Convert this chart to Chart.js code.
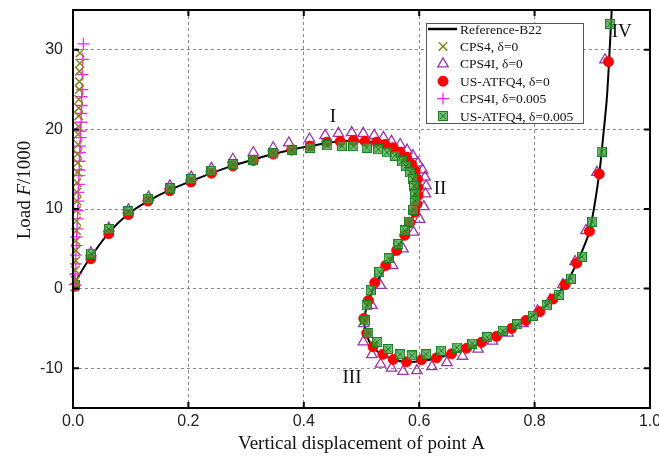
<!DOCTYPE html>
<html>
<head>
<meta charset="utf-8">
<script src="https://cdn.jsdelivr.net/npm/chart.js@4.4.0/dist/chart.umd.min.js"></script>
<style>
  html, body { margin: 0; padding: 0; background: #fff; }
  #wrap { width: 659px; height: 462px; }
</style>
</head>
<body>
<div id="wrap"><canvas id="chart" width="659" height="462"></canvas></div>
<script>
// ---- data ----
var refX = [0, 0.01, 0.031, 0.062, 0.096, 0.130, 0.168, 0.205, 0.240, 0.277, 0.3125, 0.347, 0.379, 0.411, 0.44, 0.463, 0.486, 0.506, 0.526, 0.541, 0.555, 0.567, 0.578, 0.587, 0.593, 0.597, 0.599, 0.598, 0.596, 0.592, 0.585, 0.575, 0.561, 0.543, 0.525, 0.512, 0.505, 0.508, 0.519, 0.536, 0.555, 0.578, 0.604, 0.630, 0.656, 0.682, 0.708, 0.734, 0.760, 0.785, 0.809, 0.832, 0.853, 0.873, 0.895, 0.912, 0.918, 0.925, 0.929, 0.934];
var refY = [0, 1.6, 4.0, 7.0, 9.4, 11.0, 12.4, 13.5, 14.5, 15.45, 16.2, 16.9, 17.45, 17.9, 18.3, 18.5, 18.55, 18.45, 18.3, 18.0, 17.6, 17.05, 16.4, 15.6, 14.7, 13.7, 12.7, 11.7, 10.6, 9.6, 8.3, 6.7, 4.8, 2.8, 0.6, -1.6, -3.8, -5.6, -7.3, -8.3, -8.9, -9.2, -9.1, -8.75, -8.2, -7.55, -6.8, -6.0, -5.05, -4.0, -2.8, -1.3, 0.5, 3.2, 7.2, 14.4, 18.5, 23.7, 28.5, 35.5];

var cps4X = [0.012, 0.012, 0.011, 0.011, 0.011, 0.010, 0.010, 0.010, 0.009, 0.009, 0.009, 0.008, 0.008, 0.008, 0.007, 0.007, 0.007, 0.006, 0.006, 0.006, 0.005, 0.005, 0.005, 0.004, 0.004, 0.003];
var cps4Y = [29.6, 28.3, 27.3, 26.0, 25.0, 23.75, 22.7, 21.7, 20.4, 19.4, 18.1, 16.9, 15.8, 14.6, 13.3, 12.1, 11.0, 9.8, 8.5, 7.3, 6.0, 4.8, 3.5, 2.3, 1.0, 0.2];

var cps4iX = [0.003, 0.031, 0.062, 0.096, 0.131, 0.168, 0.205, 0.240, 0.277, 0.3125, 0.347, 0.374, 0.41, 0.437, 0.46, 0.483, 0.503, 0.522, 0.538, 0.552, 0.567, 0.579, 0.589, 0.598, 0.606, 0.610, 0.612, 0.611, 0.608, 0.601, 0.590, 0.572, 0.554, 0.533, 0.518, 0.504, 0.503, 0.518, 0.533, 0.552, 0.572, 0.596, 0.622, 0.648, 0.675, 0.702, 0.727, 0.754, 0.780, 0.805, 0.827, 0.849, 0.870, 0.889, 0.908, 0.922];
var cps4iY = [0.8, 4.5, 7.6, 9.9, 11.5, 12.9, 14.0, 15.1, 16.25, 17.1, 17.7, 18.3, 18.8, 19.25, 19.5, 19.6, 19.5, 19.25, 19.0, 18.5, 18.1, 17.4, 16.7, 15.8, 14.9, 14.0, 12.9, 11.9, 10.3, 8.7, 7.1, 5.0, 2.9, 0.4, -2.1, -4.4, -6.7, -8.3, -9.5, -10.0, -10.4, -10.3, -9.8, -9.3, -8.5, -7.6, -6.6, -5.6, -4.4, -2.8, -1.4, 0.5, 3.4, 7.3, 14.6, 28.75];

var usX = [0.003, 0.031, 0.062, 0.096, 0.130, 0.168, 0.2045, 0.240, 0.277, 0.3125, 0.347, 0.379, 0.411, 0.44, 0.463, 0.486, 0.506, 0.526, 0.541, 0.555, 0.567, 0.578, 0.587, 0.593, 0.597, 0.598, 0.598, 0.596, 0.592, 0.584, 0.575, 0.561, 0.542, 0.523, 0.512, 0.504, 0.509, 0.520, 0.537, 0.555, 0.578, 0.604, 0.630, 0.656, 0.682, 0.708, 0.734, 0.760, 0.785, 0.809, 0.832, 0.853, 0.873, 0.895, 0.912, 0.928];
var usY = [0.3, 3.75, 6.9, 9.3, 11.0, 12.3, 13.4, 14.5, 15.4, 16.1, 16.9, 17.4, 17.9, 18.4, 18.5, 18.6, 18.5, 18.4, 18.1, 17.7, 17.1, 16.5, 15.6, 14.8, 13.75, 12.7, 11.7, 10.6, 9.6, 8.3, 6.7, 4.8, 2.9, 0.75, -1.5, -3.75, -5.6, -7.3, -8.25, -8.9, -9.2, -8.95, -8.7, -8.2, -7.5, -6.75, -6.0, -5.0, -4.0, -2.9, -1.3, 0.5, 3.2, 7.2, 14.4, 28.5];

var cps4i005X = [0.018, 0.017, 0.016, 0.016, 0.015, 0.015, 0.014, 0.014, 0.013, 0.013, 0.012, 0.012, 0.011, 0.011, 0.010, 0.010, 0.009, 0.009, 0.008, 0.008, 0.007, 0.006, 0.006, 0.005, 0.005, 0.004, 0.003];
var cps4i005Y = [30.75, 28.8, 26.9, 25.0, 24.1, 23.0, 22.0, 20.9, 19.8, 18.96, 17.9, 17.1, 16.0, 14.9, 14.2, 13.1, 12.1, 11.0, 9.8, 8.75, 7.5, 6.5, 5.4, 4.2, 3.1, 1.8, 0.5];

var us005X = [0.003, 0.031, 0.062, 0.096, 0.130, 0.168, 0.205, 0.240, 0.277, 0.3125, 0.347, 0.379, 0.411, 0.441, 0.466, 0.486, 0.509, 0.529, 0.544, 0.558, 0.570, 0.577, 0.584, 0.589, 0.591, 0.593, 0.593, 0.590, 0.583, 0.575, 0.564, 0.547, 0.531, 0.516, 0.509, 0.506, 0.512, 0.527, 0.546, 0.567, 0.587, 0.612, 0.638, 0.665, 0.692, 0.718, 0.745, 0.770, 0.797, 0.821, 0.842, 0.863, 0.882, 0.900, 0.916, 0.931];
var us005Y = [0.5, 4.4, 7.5, 9.7, 11.25, 12.6, 13.75, 14.8, 15.6, 16.2, 17.0, 17.4, 17.7, 18.0, 17.9, 17.9, 17.7, 17.5, 17.1, 16.7, 16.0, 15.4, 14.6, 13.75, 12.9, 11.9, 11.0, 9.9, 8.4, 7.3, 5.6, 3.8, 2.1, -0.2, -2.1, -4.0, -5.6, -6.7, -7.6, -8.25, -8.4, -8.25, -7.8, -7.4, -6.9, -6.1, -5.3, -4.5, -3.4, -2.1, -0.8, 1.25, 4.0, 8.4, 17.2, 33.25];

var xTicks = [0, 0.2, 0.4, 0.6, 0.8, 1.0];
var yTicks = [-10, 0, 10, 20, 30];
var marks = [
  { text: 'I', x: 0.4506, y: 21.5 },
  { text: 'II', x: 0.636, y: 12.5 },
  { text: 'III', x: 0.4835, y: -11.25 },
  { text: 'IV', x: 0.951, y: 32.25 }
];

function pts(xs, ys) {
  return xs.map(function (x, i) { return { x: x, y: ys[i] }; });
}

// green crossed-square marker, drawn pixel by pixel so it stays crisp
function boxCross(size, color, light) {
  var c = document.createElement('canvas');
  c.width = size; c.height = size;
  var g = c.getContext('2d');
  g.fillStyle = light;
  g.fillRect(1, 1, size - 2, size - 2);
  g.fillStyle = color;
  g.fillRect(0, 0, size, 1);
  g.fillRect(0, size - 1, size, 1);
  g.fillRect(0, 0, 1, size);
  g.fillRect(size - 1, 0, 1, size);
  for (var i = 2; i < size - 2; i++) {
    g.fillRect(i, i, 1, 1);
    g.fillRect(size - 1 - i, i, 1, 1);
  }
  return c;
}
var greenBox = boxCross(10, '#17801f', 'rgba(70,165,70,0.75)');

var serif = '"Liberation Serif", "Times New Roman", serif';
var sans = '"Liberation Sans", Arial, sans-serif';

// box, inner ticks, axis title, labels and legend
var framePlugin = {
  id: 'frame',
  afterDraw: function (chart) {
    var ctx = chart.ctx, a = chart.chartArea;
    var xs = chart.scales.x, ys = chart.scales.y;
    ctx.save();
    ctx.strokeStyle = '#000';
    ctx.lineWidth = 2;
    ctx.strokeRect(a.left, a.top, a.right - a.left, a.bottom - a.top);
    ctx.beginPath();
    xTicks.forEach(function (v) {
      var px = xs.getPixelForValue(v);
      ctx.moveTo(px, a.bottom); ctx.lineTo(px, a.bottom - 6);
      ctx.moveTo(px, a.top); ctx.lineTo(px, a.top + 6);
    });
    yTicks.forEach(function (v) {
      var py = ys.getPixelForValue(v);
      ctx.moveTo(a.left, py); ctx.lineTo(a.left + 6, py);
      ctx.moveTo(a.right, py); ctx.lineTo(a.right - 6, py);
    });
    ctx.stroke();

    // y axis title with italic F
    ctx.fillStyle = '#111';
    ctx.textBaseline = 'middle';
    ctx.translate(25, 190);
    ctx.rotate(-Math.PI / 2);
    var parts = [['Load ', 'normal'], ['F', 'italic'], ['/1000', 'normal']];
    var w = 0;
    parts.forEach(function (p) { ctx.font = p[1] + ' 19px ' + serif; w += ctx.measureText(p[0]).width; });
    var cx = -w / 2;
    parts.forEach(function (p) {
      ctx.font = p[1] + ' 19px ' + serif;
      ctx.fillText(p[0], cx, 0);
      cx += ctx.measureText(p[0]).width;
    });
    ctx.restore();

    // branch labels
    ctx.save();
    ctx.fillStyle = '#111';
    ctx.font = '19px ' + serif;
    ctx.textAlign = 'center';
    ctx.textBaseline = 'middle';
    marks.forEach(function (m) {
      ctx.fillText(m.text, xs.getPixelForValue(m.x), ys.getPixelForValue(m.y));
    });
    ctx.restore();

    // legend
    ctx.save();
    var lx = 426, ly = 23, lw = 157, lh = 100;
    ctx.fillStyle = '#fff';
    ctx.fillRect(lx, ly, lw, lh);
    ctx.strokeStyle = '#555';
    ctx.lineWidth = 1;
    ctx.strokeRect(lx + 0.5, ly + 0.5, lw, lh);
    ctx.font = '13.5px ' + serif;
    ctx.textBaseline = 'middle';
    chart.data.datasets.forEach(function (ds, i) {
      var y = 29 + i * 17.4;
      if (ds.showLine) {
        ctx.strokeStyle = ds.borderColor;
        ctx.lineWidth = 2.5;
        ctx.beginPath();
        ctx.moveTo(428, y); ctx.lineTo(457, y);
        ctx.stroke();
      } else {
        ctx.strokeStyle = ds.pointBorderColor;
        ctx.fillStyle = ds.pointBackgroundColor;
        ctx.lineWidth = ds.pointBorderWidth;
        Chart.helpers.drawPoint(ctx, {
          pointStyle: ds.pointStyle, radius: ds.pointRadius,
          borderWidth: ds.pointBorderWidth, rotation: 0
        }, 443, y);
      }
      ctx.fillStyle = '#111';
      ctx.fillText(ds.label, 460, y + 1);
    });
    ctx.restore();
  }
};

var ctx = document.getElementById('chart').getContext('2d');
var chart = new Chart(ctx, {
  type: 'scatter',
  data: {
    datasets: [
      {
        label: 'Reference-B22', data: pts(refX, refY), showLine: true,
        borderColor: '#000', borderWidth: 2, pointRadius: 0, tension: 0.3, order: 6
      },
      {
        label: 'CPS4, \u03b4=0', data: pts(cps4X, cps4Y), pointStyle: 'crossRot',
        pointRadius: 6, pointBorderWidth: 1.5, pointBorderColor: '#85851e',
        pointBackgroundColor: '#85851e', clip: false, order: 1
      },
      {
        label: 'CPS4I, \u03b4=0', data: pts(cps4iX, cps4iY), pointStyle: 'triangle',
        pointRadius: 6, pointBorderWidth: 1.3, pointBorderColor: '#9b35ad',
        pointBackgroundColor: 'rgba(255,255,255,0)', order: 5
      },
      {
        label: 'US-ATFQ4, \u03b4=0', data: pts(usX, usY), pointStyle: 'circle',
        pointRadius: 5, pointBorderWidth: 1, pointBorderColor: '#ff0000',
        pointBackgroundColor: '#ff0000', order: 4
      },
      {
        label: 'CPS4I, \u03b4=0.005', data: pts(cps4i005X, cps4i005Y), pointStyle: 'cross',
        pointRadius: 6, pointBorderWidth: 1.3, pointBorderColor: '#ff22ff',
        pointBackgroundColor: '#ff22ff', clip: false, order: 2
      },
      {
        label: 'US-ATFQ4, \u03b4=0.005', data: pts(us005X, us005Y), pointStyle: greenBox,
        pointRadius: 5, pointBorderWidth: 1, pointBorderColor: '#17801f',
        pointBackgroundColor: '#17801f', order: 3
      }
    ]
  },
  options: {
    responsive: false,
    animation: false,
    layout: { padding: { left: 0, right: 9, top: 10, bottom: 0 } },
    plugins: { legend: { display: false }, tooltip: { enabled: false } },
    scales: {
      x: {
        type: 'linear', min: 0, max: 1,
        afterFit: function (s) { s.height = 54; s.paddingLeft = 0; s.paddingRight = 0; },
        afterBuildTicks: function (s) { s.ticks = xTicks.map(function (v) { return { value: v }; }); },
        grid: { color: '#8a8a8a', lineWidth: 1, drawTicks: false },
        border: { display: false, dash: [3, 3] },
        ticks: {
          padding: 4, color: '#222', font: { family: sans, size: 16 },
          callback: function (v) { return v.toFixed(1); }
        },
        title: {
          display: true, text: 'Vertical displacement of point A', color: '#111',
          font: { family: serif, size: 19 }, padding: { top: 0, bottom: 7 }
        }
      },
      y: {
        type: 'linear', min: -15, max: 35,
        afterFit: function (s) { s.width = 73; s.paddingTop = 0; s.paddingBottom = 0; },
        afterBuildTicks: function (s) { s.ticks = yTicks.map(function (v) { return { value: v }; }); },
        grid: { color: '#8a8a8a', lineWidth: 1, drawTicks: false },
        border: { display: false, dash: [3, 3] },
        ticks: { padding: 10, color: '#222', font: { family: sans, size: 16 } }
      }
    }
  },
  plugins: [framePlugin]
});
</script>
</body>
</html>
